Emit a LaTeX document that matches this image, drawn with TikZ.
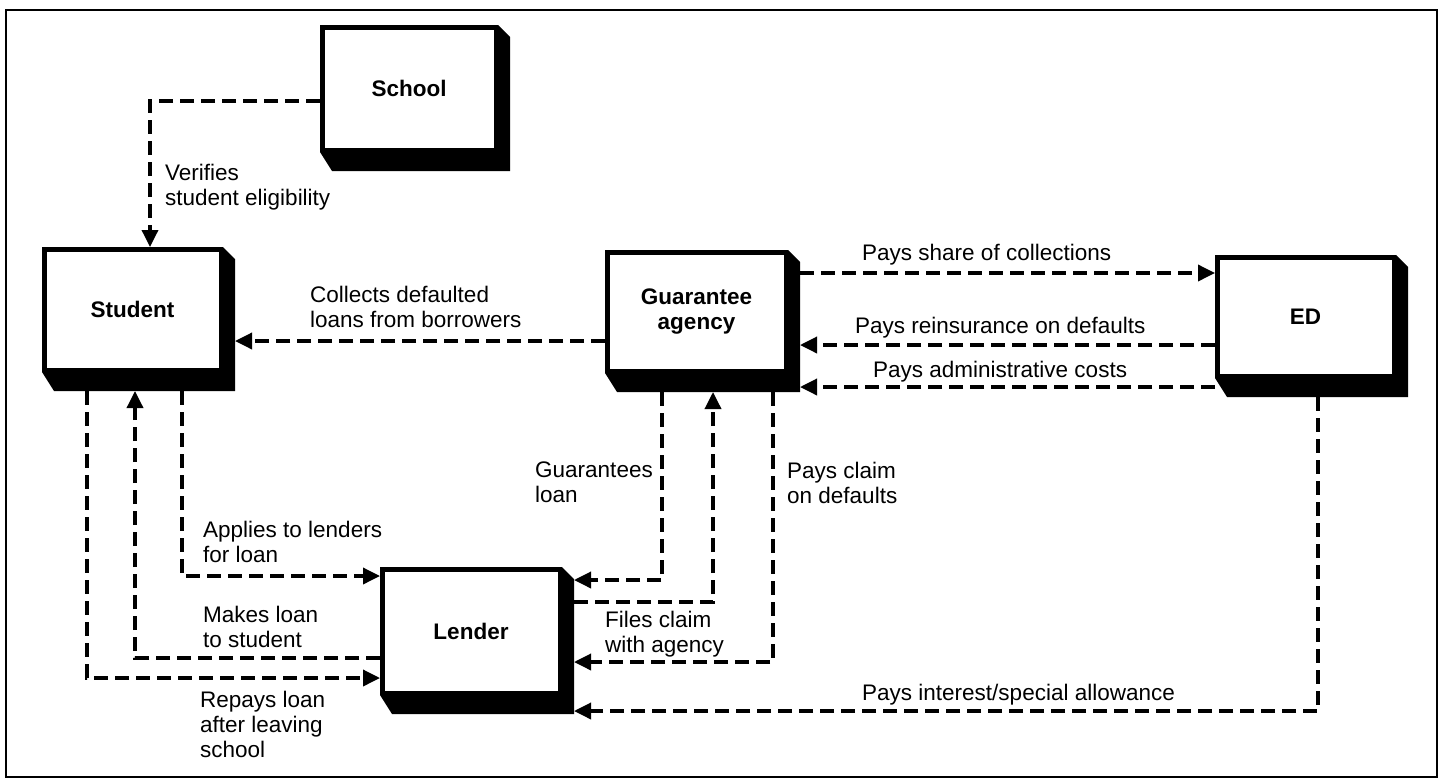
\documentclass[tikz,border=0pt]{standalone}
\usepackage{fontspec}
\setmainfont{Liberation Sans}
\usetikzlibrary{arrows.meta,calc}
\tikzset{
  box/.style={draw, line width=4.5pt, fill=white, inner sep=0pt, outer sep=2.25pt,
    font=\fontsize{22.5}{25}\selectfont\bfseries, align=center},
  flow/.style={line width=3.5pt, dash pattern=on 14pt off 7pt,
    -{Triangle[length=17pt,width=16pt]}},
  lbl/.style={inner sep=0pt, align=left, font=\fontsize{22.5}{25}\selectfont},
  frame/.style={line width=2.5pt},
}
\newcommand\boxshade[1]{%
  \fill (#1.north east) -- ++(12,12) -- ($(#1.south east)+(12,19)$)
    -- ($(#1.south west)+(12,19)$) -- (#1.south west) -- (#1.south east) -- cycle;
  \coordinate (#1-s) at ($(#1.south east)+(12,19)$);}
\begin{document}
\begin{tikzpicture}[x=1pt,y=-1pt]
\useasboundingbox (0,0) rectangle (1442,782);
\draw[frame] (6,10) rectangle (1437,777);

% boxes
\node[box, minimum width=173.5pt, minimum height=122.5pt] (school) at (409,88.5) {School};
\boxshade{school}
\node[box, minimum width=176.5pt, minimum height=120.5pt] (student) at (132.5,309.5) {Student};
\boxshade{student}
\node[box, minimum width=178.5pt, minimum height=118.5pt] (agency) at (696.5,311.5) {Guarantee\\agency};
\boxshade{agency}
\node[box, minimum width=176.5pt, minimum height=118.5pt] (ed) at (1305.5,316.5) {ED};
\boxshade{ed}
\node[box, minimum width=177.5pt, minimum height=123.5pt] (lender) at (471,631) {Lender};
\boxshade{lender}

% routing coordinates
\coordinate (p1) at (150,101);
\coordinate (p2) at (0,341);
\coordinate (p3) at (0,273);
\coordinate (p4) at (0,345);
\coordinate (p5) at (0,387);
\coordinate (p6) at (662,580);
\coordinate (p7) at (713,602);
\coordinate (p8) at (773,662);
\coordinate (p9) at (1318,711);
\coordinate (p10) at (182,576);
\coordinate (p11) at (135,658);
\coordinate (p12) at (87,678);

% connectors
\draw[flow] (school.west |- p1) -| (student.north -| p1);
\draw[flow] (agency.west |- p2) -- (student-s |- p2);
\draw[flow] (agency-s |- p3) -- (ed.west |- p3);
\draw[flow] (ed.west |- p4) -- (agency-s |- p4);
\draw[flow] (ed.west |- p5) -- (agency-s |- p5);
\draw[flow] (agency-s -| p6) |- (lender-s |- p6);
\draw[flow] (lender-s |- p7) -| (agency-s -| p7);
\draw[flow] (agency-s -| p8) |- (lender-s |- p8);
\draw[flow] (ed-s -| p9) |- (lender-s |- p9);
\draw[flow] (student-s -| p10) |- (lender.west |- p10);
\draw[flow] (lender.west |- p11) -| (student-s -| p11);
\draw[flow] (student-s -| p12) |- (lender.west |- p12);

% labels
\node[lbl, anchor=north west] (l1) at (165,164) {Verifies\\student eligibility};
\node[lbl, anchor=north west] (l2) at (310,286) {Collects defaulted\\loans from borrowers};
\node[lbl, anchor=base west] (l3) at (862,260) {Pays share of collections};
\node[lbl, anchor=base west] (l4) at (855,333) {Pays reinsurance on defaults};
\node[lbl, anchor=base west] (l5) at (873,377) {Pays administrative costs};
\node[lbl, anchor=north west] (l6) at (535,462) {Guarantees\\loan};
\node[lbl, anchor=north west] (l7) at (605,611) {Files claim\\with agency};
\node[lbl, anchor=north west] (l8) at (787,462) {Pays claim\\on defaults};
\node[lbl, anchor=base west] (l9) at (862,700) {Pays interest/special allowance};
\node[lbl, anchor=north west] (l10) at (203,521) {Applies to lenders\\for loan};
\node[lbl, anchor=north west] (l11) at (203,606) {Makes loan\\to student};
\node[lbl, anchor=north west] (l12) at (200,691) {Repays loan\\after leaving\\school};
\end{tikzpicture}
\end{document}
